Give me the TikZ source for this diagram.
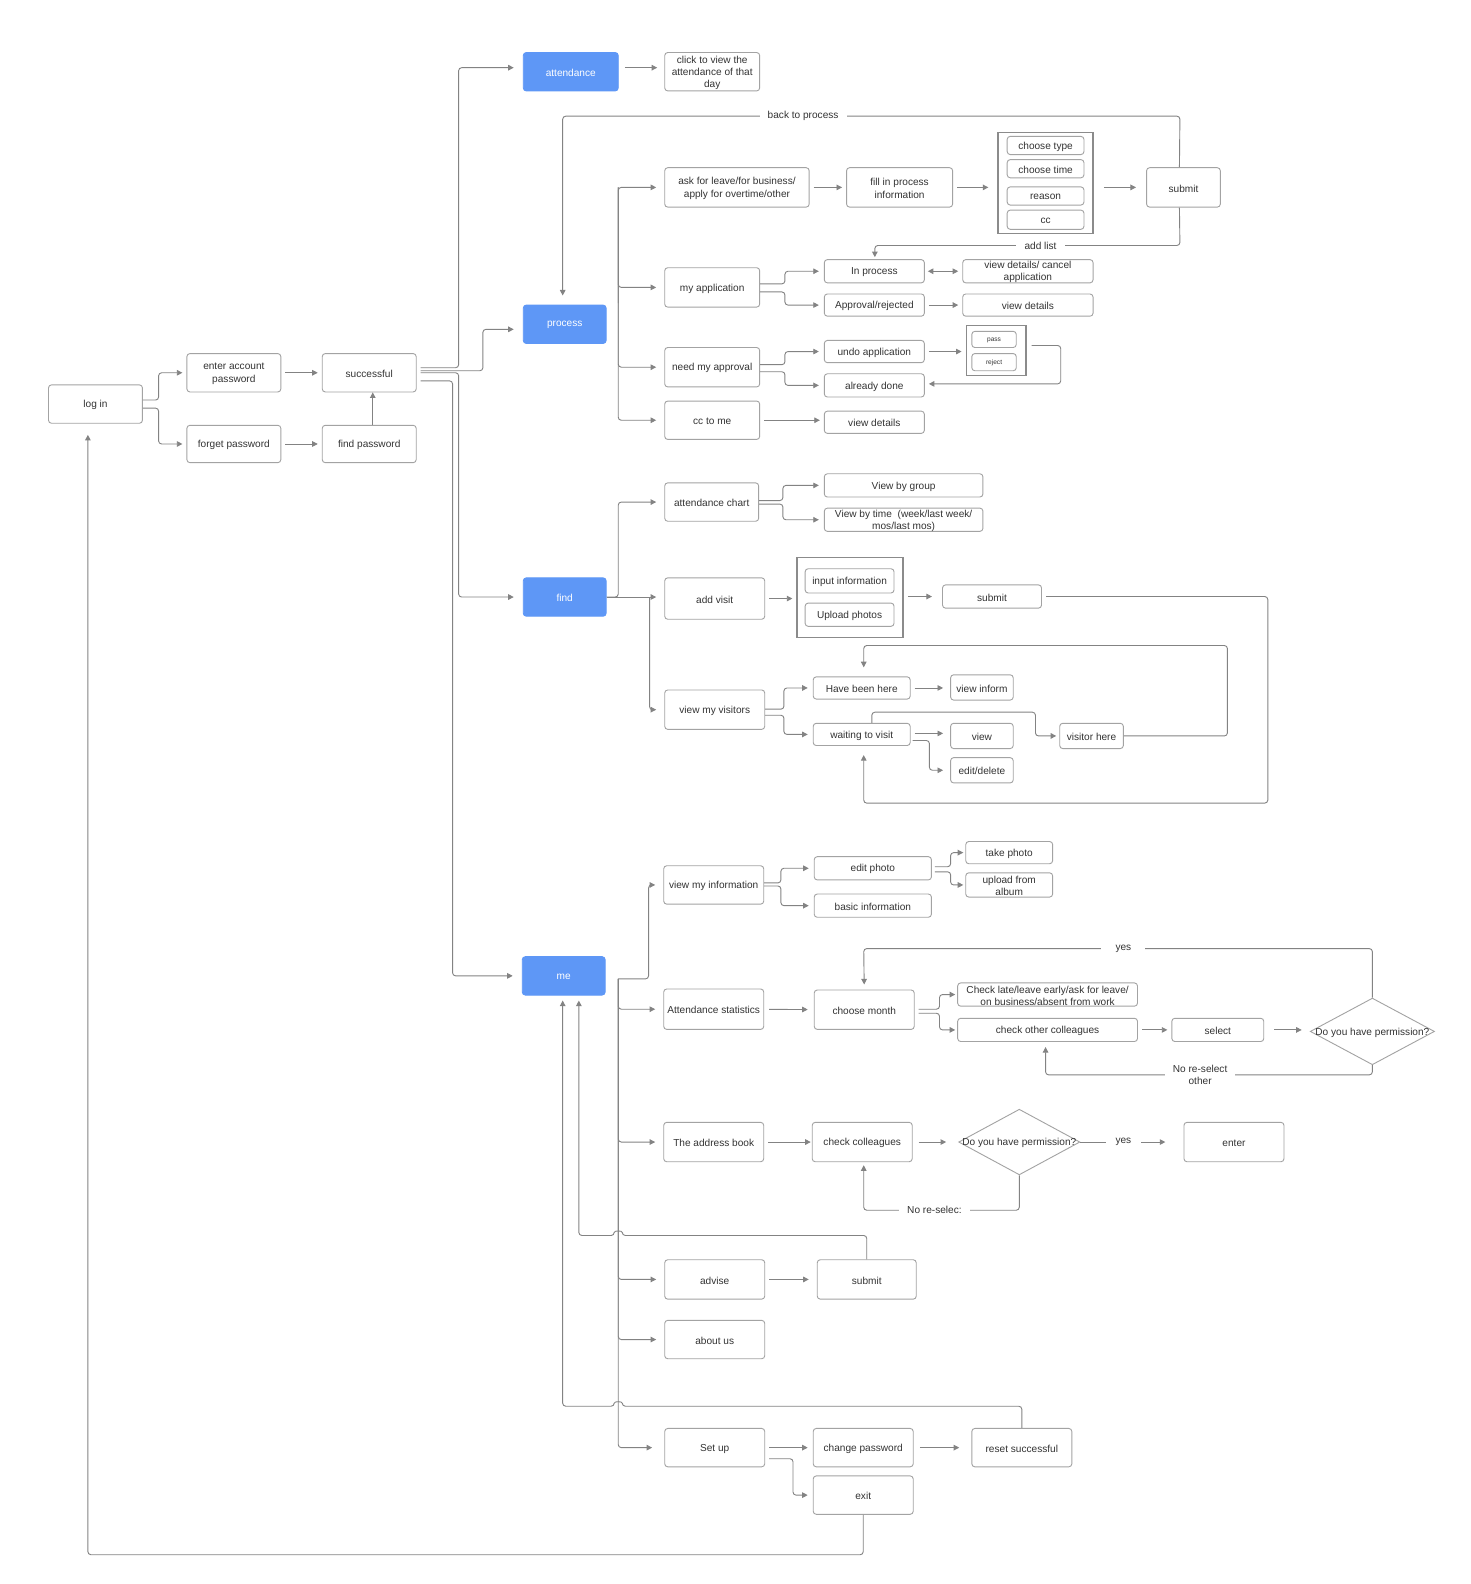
\documentclass[tikz,border=0pt]{standalone}
\usepackage{fontspec}
\setmainfont{Liberation Sans}
\usetikzlibrary{arrows.meta,shapes.geometric}
\definecolor{lc}{HTML}{838383}
\definecolor{bc}{HTML}{A3A3A3}
\definecolor{tc}{HTML}{333333}
\definecolor{blu}{HTML}{5E97F6}
\newcommand\fs{\fontsize{10}{12}\selectfont}
\newcommand\sfs{\fontsize{6.5}{7}\selectfont}
\newcommand\bx[7][]{\node[box,minimum width={(#5)-(#3)},minimum height={(#6)-(#4)},label={[txt]center:{#7}},#1] (#2) at ({((#3)+(#5))/2},{((#4)+(#6))/2}) {};}
\begin{document}
\begin{tikzpicture}[x=1pt,y=-1pt,
  box/.style={draw=bc,line width=0.9pt,rounded corners=3pt,fill=white,inner sep=0pt},
  txt/.style={font=\fs,text=tc,align=center,inner sep=0pt,yshift=-1pt},
  bluebox/.style={fill=blu,draw=blu},
  grp/.style={draw=bc!85!black,line width=1.3pt,fill=white,inner sep=0pt,rounded corners=0pt},
  dia/.style={draw=bc,line width=0.9pt,shape=diamond,inner sep=0pt,fill=white},
  ln/.style={draw=lc,line width=0.9pt,rounded corners=3pt},
  ar/.style={ln,-{Triangle[length=5.5pt,width=5.5pt]},shorten >=4pt},
  sar/.style={ar,shorten <=4pt},
  bar/.style={ar,shorten >=8pt},
  lbl/.style={fill=white,font=\fs,text=tc,align=center,inner sep=2pt}]
\fill[white] (0,0) rectangle (1456,1568);
\useasboundingbox (0,0) rectangle (1456,1568);

% ---------- login ----------
\bx{login}{48}{381}{141}{419}{log in}
\bx{enter}{185}{350}{278}{388}{enter account\\password}
\bx{forget}{185}{421}{278}{458}{forget password}
\bx{succ}{319}{350}{412}{388}{successful}
\bx{findpw}{319}{421}{412}{458}{find password}

% ---------- blue ----------
\bx[bluebox]{attendance}{518}{52}{612}{90}{\color{white}attendance}
\bx[bluebox]{process}{518}{302}{600}{340}{\color{white}process}
\bx[bluebox]{find}{518}{572}{600}{610}{\color{white}find}
\bx[bluebox]{me}{517}{947}{599}{985}{\color{white}me}

% ---------- attendance ----------
\bx{clickview}{658}{52}{752}{90}{click to view the\\attendance of that\\day}

% ---------- process ----------
\bx{ask}{658}{166}{801}{205}{ask for leave/for business/\\apply for overtime/other}
\bx{fillin}{838}{166}{943}{205}{fill in process\\information}
\node[grp,minimum width=94,minimum height=100] (grp1) at (1035,181) {};
\bx{ctype}{997}{135}{1073}{153}{choose type}
\bx{ctime}{997}{158}{1073}{176}{choose time}
\bx{reason}{997}{185}{1073}{203}{reason}
\bx{cc}{997}{208}{1073}{227}{cc}
\bx{submita}{1135}{166}{1208}{205}{submit}
\bx{myapp}{658}{265}{752}{304}{my application}
\bx{inproc}{816}{257}{915}{280}{In process}
\bx{vdcancel}{953}{257}{1082}{280}{view details/ cancel\\application}
\bx{approv}{816}{291}{915}{313}{Approval/rejected}
\bx{vdetailsa}{953}{291}{1082}{313}{view details}
\bx{need}{658}{344}{752}{383}{need my approval}
\bx{undo}{816}{337}{915}{359}{undo application}
\bx{already}{816}{370}{915}{393}{already done}
\node[grp,minimum width=59,minimum height=49] (grp2) at (986,347) {};
\bx{pass}{962}{328}{1006}{344}{\sfs pass}
\bx{reject}{962}{350}{1006}{367}{\sfs reject}
\bx{cctome}{658}{397}{752}{435}{cc to me}
\bx{vdetailsb}{816}{407}{915}{429}{view details}

% ---------- find ----------
\bx{attchart}{658}{478}{751}{516}{attendance chart}
\bx{vgroup}{816}{469}{973}{492}{View by group}
\bx{vtime}{816}{503}{973}{526}{View by time\ \ (week/last week/\\mos/last mos)}
\bx{addvisit}{658}{572}{757}{613}{add visit}
\node[grp,minimum width=105,minimum height=79] (grp3) at (841.5,591.5) {};
\bx{inputinfo}{797}{563}{885}{587}{input information}
\bx{upload}{797}{597}{885}{620}{Upload photos}
\bx{submitb}{933}{579}{1031}{602}{submit}
\bx{vmv}{658}{683}{757}{722}{view my visitors}
\bx{hbh}{805}{670}{901}{692}{Have been here}
\bx{wtv}{805}{716}{901}{738}{waiting to visit}
\bx{vinform}{941}{668}{1003}{693}{view inform}
\bx{view}{941}{716}{1003}{741}{view}
\bx{editdel}{941}{750}{1003}{775}{edit/delete}
\bx{vhere}{1049}{716}{1112}{741}{visitor here}

% ---------- me ----------
\bx{vmi}{657}{857}{756}{895}{view my information}
\bx{editph}{806}{848}{922}{871}{edit photo}
\bx{basic}{806}{885}{922}{908}{basic information}
\bx{takeph}{956}{833}{1042}{855}{take photo}
\bx{uploadalb}{956}{864}{1042}{888}{upload from\\album}
\bx{attstat}{657}{979}{756}{1019}{Attendance statistics}
\bx{month}{806}{980}{905}{1019}{choose month}
\bx{checklate}{948}{973}{1126}{996}{Check late/leave early/ask for leave/\\on business/absent from work}
\bx{othercol}{948}{1008}{1126}{1031}{check other colleagues}
\bx{select}{1160}{1008}{1251}{1031}{select}
\node[dia,minimum width=123,minimum height=66,label={[txt]center:Do you have permission?}] (diaa) at (1358.5,1021) {};
\bx{addrbook}{657}{1111}{756}{1150}{The address book}
\bx{checkcol}{804}{1111}{903}{1150}{check colleagues}
\node[dia,minimum width=120,minimum height=65,label={[txt]center:Do you have permission?}] (diab) at (1009,1130.5) {};
\bx{entera}{1172}{1111}{1271}{1150}{enter}
\bx{advise}{658}{1247}{757}{1286}{advise}
\bx{submitc}{809}{1247}{907}{1286}{submit}
\bx{aboutus}{658}{1307}{757}{1345}{about us}
\bx{setup}{658}{1414}{757}{1452}{Set up}
\bx{chpw}{805}{1414}{904}{1452}{change password}
\bx{reset}{962}{1414}{1061}{1452}{reset successful}
\bx{exit}{805}{1461}{904}{1499}{exit}

% ---------- connectors: login ----------
\draw[ar] ([yshift=4pt]login.east) -- (157,396) -- (157,369) -- (enter.west);
\draw[ar] ([yshift=-4pt]login.east) -- (157,404) -- (157,439.5) -- (forget.west);
\draw[sar] (enter) -- (succ);
\draw[sar] (forget) -- (findpw);
\draw[ar,shorten >=0pt] ([xshift=3.5pt]findpw.north) -- ([xshift=3.5pt]succ.south);
\draw[ar,shorten <=4pt,shorten >=9pt] ([yshift=5pt]succ.east) -- (454,364) -- (454,67) -- ([yshift=4pt]attendance.west);
\draw[ar,shorten <=4pt,shorten >=9pt] ([yshift=2pt]succ.east) -- (478,367) -- (478,326) -- ([yshift=-5pt]process.west);
\draw[ar,shorten <=4pt,shorten >=9pt] (succ.east) -- (454,369) -- (454,591) -- (find.west);
\draw[ar,shorten <=4pt,shorten >=9pt] ([yshift=-8pt]succ.east) -- (448,377) -- (448,966) -- (me.west);

% ---------- attendance ----------
\draw[ar,shorten <=6pt,shorten >=7pt] ([yshift=4pt]attendance.east) -- ([yshift=4pt]clickview.west);

% ---------- process ----------
\draw[bar] (612,300) -- (612,185.5) -- (ask.west);
\draw[bar] (612,185.5) |- (myapp.west);
\draw[bar] (612,185.5) |- (need.west);
\draw[bar] (612,185.5) |- (cctome.west);
\draw[sar] (ask) -- (fillin);
\draw[sar,shorten >=9pt] (fillin.east) -- (fillin.east -| grp1.west);
\draw[sar,shorten <=10pt,shorten >=10pt] (grp1.east |- submita.west) -- (submita.west);
\draw[ar,shorten >=9pt] ([xshift=-4pt]submita.north) -- (1168,115) -- (557,115) -- ([xshift=-2pt]process.north);
\node[lbl,inner xsep=8pt] at (795,115) {back to process};
\draw[ar,shorten >=2pt] ([xshift=-4pt]submita.south) -- (1168,243) -- (866,243) -- ([xshift=0.5pt]inproc.north);
\node[lbl,inner xsep=8pt] at (1030,243) {add list};
\draw[ar,shorten >=5pt] ([yshift=3.5pt]myapp.east) -- (777,281) -- (777,268.5) -- (inproc.west);
\draw[ar,shorten >=5pt] ([yshift=-4.5pt]myapp.east) -- (777,289) -- (777,302) -- (approv.west);
\draw[ln,{Triangle[length=5.5pt,width=5.5pt]}-{Triangle[length=5.5pt,width=5.5pt]},shorten <=3pt,shorten >=4pt] (inproc) -- (vdcancel);
\draw[sar] (approv) -- (vdetailsa);
\draw[ar,shorten >=5pt] ([yshift=2.5pt]need.east) -- (777,361) -- (777,348) -- (undo.west);
\draw[ar,shorten >=5pt] ([yshift=-4.5pt]need.east) -- (777,368) -- (777,381.5) -- (already.west);
\draw[sar] (undo.east) -- (undo.east -| grp2.west);
\draw[ar,shorten <=5pt] ([yshift=5pt]grp2.east) -- (1050,342) -- (1050,380) -- ([yshift=1.5pt]already.east);
\draw[sar] (cctome.east) -- (cctome.east -| vdetailsb.west);

% ---------- find ----------
\draw[bar] (find.east) -- (612,591) -- (612,497) -- (attchart.west);
\draw[bar] (find.east) -- (addvisit.west |- find.east);
\draw[bar] (643,591) |- (vmv.west);
\draw[ar,shorten >=5pt] ([yshift=1.5pt]attchart.east) -- (775,495.5) -- (775,480.5) -- (vgroup.west);
\draw[ar,shorten >=5pt] ([yshift=-2pt]attchart.east) -- (775,499) -- (775,514.5) -- (vtime.west);
\draw[sar] (addvisit.east) -- (addvisit.east -| grp3.west);
\draw[sar,shorten >=10pt] (grp3.east |- submitb.west) -- (submitb.west);
\draw[ar,shorten <=4pt,shorten >=9pt] (submitb.east) -- (1255,590.5) -- (1255,795) -- (855,795) -- ([xshift=2pt]wtv.south);
\draw[ar,shorten >=5pt] ([yshift=0.5pt]vmv.east) -- (776,702) -- (776,681) -- (hbh.west);
\draw[ar,shorten >=5pt] ([yshift=-5.5pt]vmv.east) -- (776,708) -- (776,727) -- (wtv.west);
\draw[sar,shorten >=7pt] (hbh.east) -- (hbh.east -| vinform.west);
\draw[sar,shorten >=7pt] ([yshift=1pt]wtv.east) -- ([yshift=1pt]wtv.east -| view.west);
\draw[ar,shorten <=2pt,shorten >=7pt] ([yshift=-6pt]wtv.east) -- (920,733) -- (920,762.5) -- (editdel.west);
\draw[ar,shorten >=3pt] ([xshift=10pt]wtv.north) -- (863,705) -- (1025,705) -- (1025,728.5) -- (vhere.west);
\draw[ar,shorten >=9pt] (vhere.east) -- (1215,728.5) -- (1215,639) -- (855,639) -- ([xshift=2pt]hbh.north);

% ---------- me ----------
\coordinate (mebus) at (612,969);
\draw[bar] (mebus) -- (642,969) -- (642,876) -- (vmi.west);
\draw[bar] (mebus) |- (attstat.west);
\draw[bar] (mebus) |- (addrbook.west);
\draw[bar] (mebus) |- (advise.west);
\draw[bar] (mebus) |- (aboutus.west);
\draw[bar,shorten >=12pt] (mebus) |- (setup.west);
\draw[ar,shorten >=5pt] ([yshift=2pt]vmi.east) -- (773,874) -- (773,859.5) -- (editph.west);
\draw[ar,shorten >=5pt] ([yshift=-1pt]vmi.east) -- (773,877) -- (773,896.5) -- (basic.west);
\draw[ar,shorten <=3pt,shorten >=2pt] ([yshift=1.5pt]editph.east) -- (941,858) -- (941,844) -- (takeph.west);
\draw[ar,shorten <=3pt,shorten >=2pt] ([yshift=-3.5pt]editph.east) -- (941,863) -- (941,876) -- (uploadalb.west);
\draw[sar,shorten <=5pt,shorten >=6pt] (attstat) -- (month);
\draw[ar,shorten <=4pt,shorten >=2pt] ([yshift=0.5pt]month.east) -- (930,999) -- (930,984.5) -- (checklate.west);
\draw[ar,shorten <=4pt,shorten >=2pt] ([yshift=-3.5pt]month.east) -- (930,1003) -- (930,1019.5) -- (othercol.west);
\draw[sar] (othercol) -- (select);
\draw[sar,shorten <=10pt,shorten >=8pt] (select.east) -- (select.east -| diaa.west);
\draw[ar,shorten >=5pt] (diaa.north) -- (1358.5,939) -- (855,939) -- (month.north);
\node[lbl,inner xsep=14pt] at (1112,939) {yes};
\draw[ar,shorten >=5pt] (diaa.south) -- (1358.5,1064) -- (1035,1064) -- ([xshift=-2pt]othercol.south);
\node[lbl,inner xsep=8pt,font=\fontsize{10}{12.5}\selectfont] at (1188,1064) {No re-select\\other};
\draw[sar,shorten >=1pt] (addrbook) -- (checkcol);
\draw[sar,shorten <=6pt,shorten >=12pt] (checkcol) -- (diab.west);
\draw[ar,shorten >=18pt] (diab.east) -- (entera.west);
\node[lbl,minimum width=34pt,inner sep=0pt,minimum height=12pt] at (1112,1130.5) {yes};
\draw[ar,shorten >=3pt] (diab.south) -- (1009,1198) -- (855,1198) -- ([xshift=1.5pt]checkcol.south);
\node[lbl,inner xsep=8pt] at (925,1198) {No re-selec:};
\draw[sar,shorten >=8pt] (advise) -- (submitc);
\draw[ar,shorten >=5pt] (submitc.north) -- (858,1223) -- (616,1223) .. controls (616,1218) and (608,1218) .. (608,1223) -- (573,1223) -- ([xshift=15pt]me.south);
\draw[ar,shorten >=5pt] (reset.north) -- (1011.5,1392) -- (616,1392) .. controls (616,1387) and (608,1387) .. (608,1392) -- (557,1392) -- ([xshift=-1pt]me.south);
\draw[sar,shorten >=5pt] (setup) -- (chpw);
\draw[sar,shorten <=6pt,shorten >=12pt] (chpw) -- (reset);
\draw[ar,shorten <=4pt,shorten >=5pt] ([yshift=-11pt]setup.east) -- (785,1444) -- (785,1480) -- (exit.west);
\draw[ar,shorten >=11pt] (exit.south) -- (854.5,1539) -- (87,1539) -- ([xshift=-7.5pt]login.south);
\end{tikzpicture}
\end{document}
